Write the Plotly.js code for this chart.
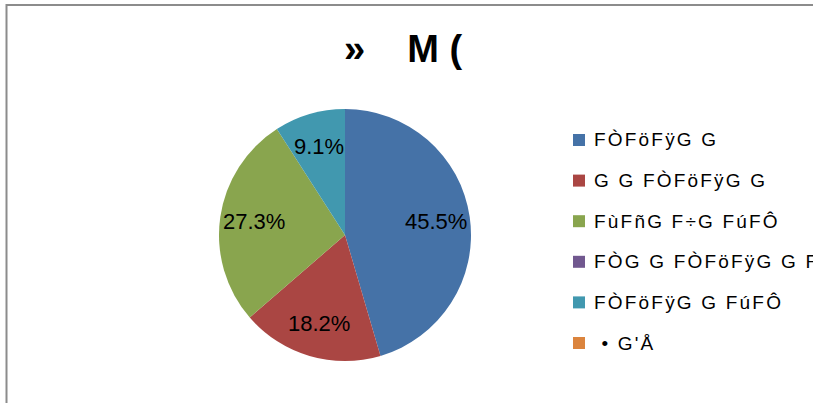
<!DOCTYPE html>
<html>
<head>
<meta charset="utf-8">
<script src="https://cdn.plot.ly/plotly-3.0.1.min.js"></script>
<style>
  html, body { margin: 0; padding: 0; background: #fff; }
  #chart { width: 813px; height: 403px; }
  /* legend texts get letter spacing; percent labels (contain "%") do not */
  .annotation-text { letter-spacing: 2.2px; }
  .annotation-text[data-unformatted*="%"],
  .annotation-text[style*="22px"] { letter-spacing: 0px; }
</style>
</head>
<body>
<div id="chart"></div>
<script>
// ---- data ----
const categories = ["FÒFöFÿG G", "G G FÒFöFÿG G", "FùFñG F÷G FúFÔ", "FÒG G FÒFöFÿG G F", "FÒFöFÿG G FúFÔ", " • G'Å"];
const values = [5, 2, 3, 0, 1, 0];
const colors = ["#4572A7", "#AA4643", "#89A54E", "#71588F", "#4198AF", "#DB843D"];
const titleText = "»\u00a0\u00a0\u00a0\u00a0M (";

// ---- layout constants (pixels) ----
const W = 813, H = 403;
const cx = 345, cy = 235, R = 126;
const labelR = 0.73;
const legX = 573, legSq = 12, legTextX = 592, legY0 = 140, legDY = 40.6;

const px = x => x / W;
const py = y => 1 - y / H;

const trace = {
  type: "pie",
  labels: categories,
  values: values,
  sort: false,
  direction: "clockwise",
  rotation: 0,
  marker: { colors: colors, line: { width: 0 } },
  textinfo: "none",
  hoverinfo: "label+percent",
  showlegend: false,
  domain: { x: [px(cx - R), px(cx + R)], y: [py(cy + R), py(cy - R)] }
};

const shapes = [
  { type: "path", xref: "paper", yref: "paper",
    path: `M ${px(6.5)} ${py(403)} L ${px(6.5)} ${py(5)} L ${px(813)} ${py(5)}`,
    line: { color: "#8c8c8c", width: 2 } }
];
const annotations = [];

categories.forEach((c, i) => {
  const yc = legY0 + i * legDY;
  shapes.push({ type: "rect", xref: "paper", yref: "paper",
    x0: px(legX), x1: px(legX + legSq), y0: py(yc + legSq / 2), y1: py(yc - legSq / 2),
    fillcolor: colors[i], line: { width: 0 } });
  annotations.push({ xref: "paper", yref: "paper", x: px(legTextX), y: py(yc),
    xanchor: "left", yanchor: "middle", showarrow: false, text: c.replace(/ /g, "\u00a0"),
    font: { family: "Liberation Sans, Arial, sans-serif", size: 19, color: "#000" } });
});

// percent labels along each slice's mid-angle (computed from values)
const total = values.reduce((a, b) => a + b, 0);
let cum = 0;
values.forEach((v, i) => {
  const start = cum; cum += v;
  if (v <= 0) return;
  const mid = ((start + v / 2) / total) * 2 * Math.PI;
  const x = cx + labelR * R * Math.sin(mid);
  const y = cy - labelR * R * Math.cos(mid);
  annotations.push({ xref: "paper", yref: "paper", x: px(x), y: py(y),
    xanchor: "center", yanchor: "middle", showarrow: false,
    text: (100 * v / total).toFixed(1) + "%",
    font: { family: "Liberation Sans, Arial, sans-serif", size: 22, color: "#000" } });
});

const layout = {
  width: W, height: H,
  margin: { l: 0, r: 0, t: 0, b: 0 },
  paper_bgcolor: "#fff",
  title: { text: titleText, x: px(403), xanchor: "center", xref: "paper",
    y: py(49), yref: "paper", yanchor: "middle",
    font: { family: "Liberation Sans, Arial, sans-serif", size: 38, weight: "bold", color: "#000" } },
  shapes: shapes,
  annotations: annotations,
  showlegend: false
};

Plotly.newPlot("chart", [trace], layout, { displayModeBar: false, staticPlot: true });
</script>
</body>
</html>
